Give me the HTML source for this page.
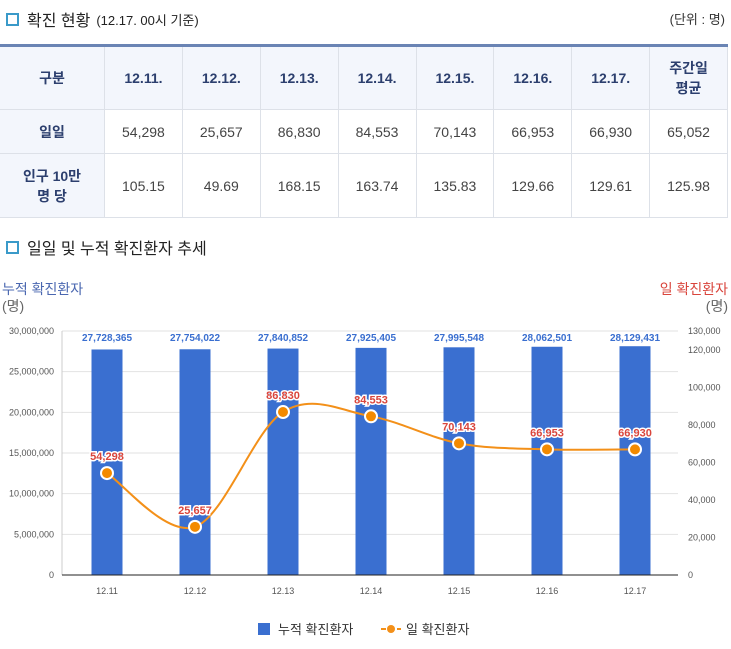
<!DOCTYPE html>
<html><head><meta charset="utf-8"><style>
body{margin:0;width:731px;height:649px;background:#fff;font-family:"Liberation Sans","Noto Sans CJK KR",sans-serif;position:relative;overflow:hidden;color:#333}
.ttl{position:absolute;left:6px;font-size:16px;color:#222;display:flex;align-items:center}
.ttl .sq{width:9px;height:9px;border:2px solid #3a9ac9;margin-right:8px}
table{position:absolute;left:0;top:44px;width:728px;border-collapse:collapse;border-top:3px solid #6a84b4;font-size:14px;text-align:center}
td,th{border:1px solid #dde1e8;color:#444;font-weight:normal}
th{background:#f3f6fc;color:#2c3f6e;font-weight:bold;height:60px}
td.h{background:#f3f6fc;color:#2c3f6e;font-weight:bold}
tr:first-child th{border-top:none}
td:first-child,th:first-child{border-left:none}
</style></head><body>
<div class="ttl" style="top:7px"><span class="sq"></span>확진 현황 <span style="font-size:13px;margin-left:6px">(12.17. 00시 기준)</span></div>
<div style="position:absolute;right:6px;top:9px;font-size:13px">(단위 : 명)</div>
<table>
<tr style="height:62px"><th style="width:102px">구분</th><th>12.11.</th><th>12.12.</th><th>12.13.</th><th>12.14.</th><th>12.15.</th><th>12.16.</th><th>12.17.</th><th>주간일<br>평균</th></tr>
<tr style="height:44px"><td class="h">일일</td><td>54,298</td><td>25,657</td><td>86,830</td><td>84,553</td><td>70,143</td><td>66,953</td><td>66,930</td><td>65,052</td></tr>
<tr style="height:64px"><td class="h">인구 10만<br>명 당</td><td>105.15</td><td>49.69</td><td>168.15</td><td>163.74</td><td>135.83</td><td>129.66</td><td>129.61</td><td>125.98</td></tr>
</table>
<div class="ttl" style="top:235px"><span class="sq"></span>일일 및 누적 확진환자 추세</div>
<svg id="c" width="731" height="649" style="position:absolute;left:0;top:0"></svg>
<script>
const categories=["12.11","12.12","12.13","12.14","12.15","12.16","12.17"];
const cumulative=[27728365,27754022,27840852,27925405,27995548,28062501,28129431];
const daily=[54298,25657,86830,84553,70143,66953,66930];
const leftTicks=[0,5000000,10000000,15000000,20000000,25000000,30000000];
const rightTicks=[0,20000,40000,60000,80000,100000,120000,130000];
const NS="http://www.w3.org/2000/svg",svg=document.getElementById('c');
const y0=575,y1=331,xL=62,xR=678;
const yl=v=>y0-(v/30000000)*(y0-y1);
const yr=v=>y0-(v/130000)*(y0-y1);
const bw=(xR-xL)/categories.length;
const xc=i=>xL+bw*(i+0.5)+1;
function mk(t,a,p){const e=document.createElementNS(NS,t);for(const k in a)e.setAttribute(k,a[k]);(p||svg).appendChild(e);return e}
const fmt=v=>v.toLocaleString('en-US');
let e;
e=mk('text',{x:2,y:294,fill:'#4a67b0','font-size':14});e.textContent='누적 확진환자';


e=mk('text',{x:2,y:311,fill:'#666','font-size':14});e.textContent='(명)';
e=mk('text',{x:728,y:294,fill:'#d9453c','font-size':14,'text-anchor':'end'});e.textContent='일 확진환자';


e=mk('text',{x:728,y:311,fill:'#666','font-size':14,'text-anchor':'end'});e.textContent='(명)';
leftTicks.forEach(v=>{
 if(v>0){e=mk('line',{x1:xL,x2:xR,y1:yl(v),y2:yl(v),stroke:'#e2e2e2'});}
 e=mk('text',{x:54,y:yl(v)+3,'font-size':9,fill:'#555','text-anchor':'end'});e.textContent=fmt(v);
 
 
});
mk('line',{x1:xL,x2:xL,y1:y1,y2:y0,stroke:'#ccc'});
rightTicks.forEach(v=>{
 e=mk('text',{x:688,y:yr(v)+3,'font-size':9,fill:'#555'});e.textContent=fmt(v);
 
 
});
categories.forEach((c,i)=>{
 const y=yl(cumulative[i]);
 e=mk('rect',{x:xc(i)-15.5,y:y,width:31,height:y0-y,fill:'#3a6fd0'});
 
 
 e=mk('text',{x:xc(i),y:y1+10,'font-size':10,'font-weight':'bold',fill:'#3a6fd0','text-anchor':'middle'});e.textContent=fmt(cumulative[i]);
 
 
 e=mk('text',{x:xc(i),y:y0+19,'font-size':9,fill:'#555','text-anchor':'middle'});e.textContent=c;
 
 
});
mk('line',{x1:xL,x2:xR,y1:y0,y2:y0,stroke:'#222'});
const pts=daily.map((v,i)=>[xc(i),yr(v)]);
let d='M'+pts[0][0]+','+pts[0][1];
for(let i=0;i<pts.length-1;i++){
 const p0=pts[Math.max(i-1,0)],p1=pts[i],p2=pts[i+1],p3=pts[Math.min(i+2,pts.length-1)];
 const t=1/6;
 d+=`C${p1[0]+(p2[0]-p0[0])*t},${p1[1]+(p2[1]-p0[1])*t} ${p2[0]-(p3[0]-p1[0])*t},${p2[1]-(p3[1]-p1[1])*t} ${p2[0]},${p2[1]}`;
}
e=mk('path',{d:d,fill:'none',stroke:'#f39019','stroke-width':2});


pts.forEach((p,i)=>{
 e=mk('circle',{cx:p[0],cy:p[1],r:6,fill:'#f38a00',stroke:'#fff','stroke-width':2});
 
 
 e=mk('text',{x:p[0],y:p[1]-13,'font-size':11,'font-weight':'bold',fill:'#d9453c','text-anchor':'middle',stroke:'#fff','stroke-width':3,'paint-order':'stroke'});e.textContent=fmt(daily[i]);
 
 
});
const lg=mk('g',{});


e=mk('rect',{x:258,y:623,width:12,height:12,fill:'#3a6fd0'},lg);
e=mk('text',{x:278,y:634,'font-size':13,fill:'#333'},lg);e.textContent='누적 확진환자';


mk('line',{x1:381,x2:401,y1:629,y2:629,stroke:'#f39019','stroke-width':2,'stroke-dasharray':'5,3'},lg);
mk('circle',{cx:391,cy:629,r:4,fill:'#f39019'},lg);
e=mk('text',{x:406,y:634,'font-size':13,fill:'#333'},lg);e.textContent='일 확진환자';


</script>
</body></html>
